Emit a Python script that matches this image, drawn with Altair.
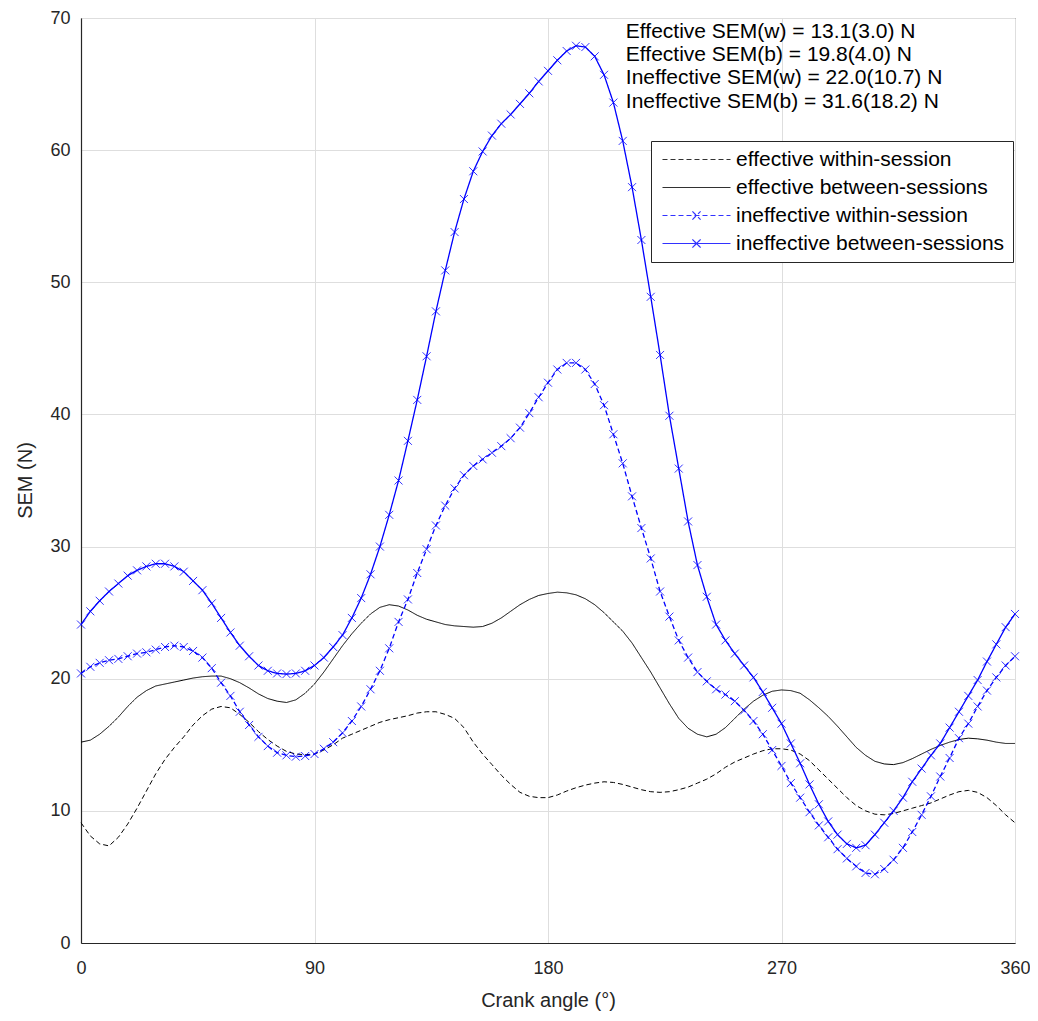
import altair as alt
import pandas as pd

# ---------------- data ----------------
angles = [round(3.6 * i, 1) for i in range(101)]

series_names = [
    "effective within-session",
    "effective between-sessions",
    "ineffective within-session",
    "ineffective between-sessions",
]

eff_within = [9.1, 8.1, 7.5, 7.35, 8.0, 9.0, 10.2, 11.5, 12.8, 13.9,
              14.8, 15.6, 16.5, 17.2, 17.7, 17.9, 17.8, 17.3, 16.7, 16.0,
              15.4, 14.9, 14.5, 14.3, 14.25, 14.3, 14.6, 15.0, 15.5, 15.8,
              16.1, 16.4, 16.7, 16.9, 17.05, 17.2, 17.4, 17.5, 17.5, 17.3,
              17.0, 16.3, 15.2, 14.3, 13.5, 12.7, 12.0, 11.4, 11.1, 11.0,
              11.0, 11.2, 11.5, 11.75, 11.95, 12.1, 12.2, 12.15, 12.0, 11.8,
              11.6, 11.45, 11.4, 11.45, 11.6, 11.8, 12.1, 12.4, 12.8, 13.3,
              13.7, 14.0, 14.3, 14.55, 14.7, 14.7, 14.6, 14.3, 13.8, 13.1,
              12.4, 11.7, 11.0, 10.4, 10.0, 9.75, 9.7, 9.8, 10.0, 10.2,
              10.4, 10.6, 10.9, 11.2, 11.45, 11.55, 11.4, 11.0, 10.4, 9.7,
              9.1]

eff_between = [15.2, 15.35, 15.8, 16.4, 17.1, 17.9, 18.6, 19.1, 19.45, 19.6,
               19.75, 19.9, 20.05, 20.15, 20.2, 20.2, 20.0, 19.7, 19.3, 18.85,
               18.5, 18.3, 18.2, 18.4, 18.9, 19.6, 20.5, 21.5, 22.5, 23.4,
               24.2, 24.9, 25.4, 25.6, 25.5, 25.2, 24.8, 24.5, 24.3, 24.1,
               24.0, 23.95, 23.9, 23.95, 24.2, 24.6, 25.1, 25.6, 26.0, 26.3,
               26.45, 26.55, 26.5, 26.35, 26.05, 25.6, 25.0, 24.3, 23.6, 22.7,
               21.6, 20.5, 19.3, 18.1, 17.0, 16.25, 15.8, 15.6, 15.8, 16.3,
               17.0, 17.7, 18.3, 18.75, 19.05, 19.15, 19.1, 18.9, 18.4, 17.8,
               17.15, 16.4, 15.6, 14.8, 14.2, 13.75, 13.55, 13.5, 13.65, 13.95,
               14.3, 14.65, 14.95, 15.2, 15.4, 15.5, 15.45, 15.35, 15.2, 15.1,
               15.1]

ineff_within = [20.4, 20.9, 21.2, 21.4, 21.5, 21.7, 21.9, 22.0, 22.2, 22.4,
                22.5, 22.4, 22.1, 21.6, 20.8, 19.7, 18.7, 17.5, 16.5, 15.6,
                14.9, 14.4, 14.2, 14.1, 14.15, 14.3, 14.7, 15.2, 15.9, 16.8,
                17.9, 19.2, 20.6, 22.3, 24.3, 26.0, 28.0, 29.8, 31.6, 33.1,
                34.4, 35.4, 36.1, 36.6, 37.1, 37.6, 38.2, 39.0, 40.1, 41.3,
                42.4, 43.4, 43.9, 43.9, 43.4, 42.3, 40.7, 38.5, 36.3, 33.8,
                31.4, 29.1, 26.6, 24.7, 22.9, 21.6, 20.5, 19.8, 19.2, 18.8,
                18.3, 17.6, 16.8, 15.8, 14.6, 13.4, 12.1, 11.0, 9.9, 8.9,
                8.0, 7.1, 6.4, 5.8, 5.3, 5.2, 5.6, 6.3, 7.2, 8.4,
                9.7, 11.1, 12.6, 14.0, 15.5, 16.6, 17.9, 19.1, 20.1, 21.0,
                21.7]

ineff_between = [24.1, 25.1, 25.9, 26.6, 27.2, 27.8, 28.2, 28.5, 28.7, 28.7,
                 28.5, 28.1, 27.4, 26.7, 25.7, 24.6, 23.5, 22.5, 21.7, 21.0,
                 20.6, 20.4, 20.35, 20.4, 20.6, 21.0, 21.6, 22.4, 23.3, 24.6,
                 26.1, 27.9, 30.0, 32.4, 35.0, 38.0, 41.1, 44.4, 47.8, 50.9,
                 53.8, 56.3, 58.4, 59.9, 61.1, 62.0, 62.7, 63.5, 64.3, 65.2,
                 66.0, 66.8, 67.5, 67.9, 67.8, 67.1, 65.7, 63.6, 60.7, 57.2,
                 53.2, 48.9, 44.5, 39.9, 35.9, 31.9, 28.6, 26.2, 24.1, 22.9,
                 21.9, 21.0, 20.1, 19.0, 17.8, 16.6, 15.1, 13.6, 12.0, 10.5,
                 9.2, 8.2, 7.5, 7.2, 7.4, 8.2, 9.1, 10.0, 11.0, 12.2,
                 13.2, 14.2, 15.1, 16.3, 17.5, 18.7, 19.9, 21.3, 22.6, 23.9,
                 24.9]

annotation_lines = [
    "Effective SEM(w) = 13.1(3.0) N",
    "Effective SEM(b) = 19.8(4.0) N",
    "Ineffective SEM(w) = 22.0(10.7) N",
    "Ineffective SEM(b) = 31.6(18.2) N",
]

x_ticks = [0, 90, 180, 270, 360]
y_ticks = [0, 10, 20, 30, 40, 50, 60, 70]

# ---------------- tables ----------------
rows = []
for name, vals in zip(series_names, [eff_within, eff_between, ineff_within, ineff_between]):
    assert len(vals) == len(angles), name
    for a, v in zip(angles, vals):
        rows.append({"angle": a, "sem": v, "series": name})
df = pd.DataFrame(rows)

ann_df = pd.DataFrame({
    "t": annotation_lines,
    "x": [210.0] * len(annotation_lines),
    "y": [68.95 - 1.76 * i for i in range(len(annotation_lines))],
})

# ---------------- styles ----------------
colors = ["#000000", "#000000", "#0000ff", "#0000ff"]
dashes = [[5, 3], [1, 0], [5, 3], [1, 0]]
LINE = "M-5,0H5"
LINE_X = "M-5,0H5M-0.6,-0.6L0.6,0.6M-0.6,0.6L0.6,-0.6"
X_MARK = "M-1,-1L1,1M-1,1L1,-1"

FONT = "Liberation Sans"

legend = alt.Legend(
    title=None, orient="none", legendX=570, legendY=123,
    strokeColor="#262626", fillColor="white", padding=8,
    labelFont=FONT, labelFontSize=21, labelColor="#000000", labelLimit=0,
    symbolSize=185, symbolStrokeWidth=1.2, symbolOffset=27, labelOffset=29,
    rowPadding=6,
)

color_scale = alt.Scale(domain=series_names, range=colors)
dash_scale = alt.Scale(domain=series_names, range=dashes)
shape_scale = alt.Scale(domain=series_names, range=[LINE, LINE, LINE_X, LINE_X])

x_enc = alt.X(
    "angle:Q",
    scale=alt.Scale(domain=[0, 360], nice=False),
    axis=alt.Axis(values=x_ticks, title="Crank angle (°)", labelPadding=16,
                  labelFlush=False, titleBaseline="middle", titleY=57),
)
y_enc = alt.Y(
    "sem:Q",
    scale=alt.Scale(domain=[0, 70], nice=False),
    axis=alt.Axis(values=y_ticks, title="SEM (N)", labelPadding=11,
                  labelFlush=False, titleBaseline="middle", titleX=-56, titleY=462),
)

color_enc = alt.Color("series:N", scale=color_scale, legend=legend)
dash_enc = alt.StrokeDash("series:N", scale=dash_scale, legend=legend)

base = alt.Chart(df)

black_lines = base.transform_filter(
    alt.FieldOneOfPredicate(field="series", oneOf=series_names[:2])
).mark_line(strokeWidth=1.0).encode(
    x=x_enc, y=y_enc, color=color_enc, strokeDash=dash_enc, detail="series:N"
)

blue_lines = base.transform_filter(
    alt.FieldOneOfPredicate(field="series", oneOf=series_names[2:])
).mark_line(strokeWidth=1.3).encode(
    x=x_enc, y=y_enc, color=color_enc, strokeDash=dash_enc, detail="series:N"
)

markers = base.transform_filter(
    alt.FieldOneOfPredicate(field="series", oneOf=series_names[2:])
).mark_point(shape=X_MARK, size=64, filled=False, strokeWidth=1.0, opacity=0.8).encode(
    x=x_enc, y=y_enc, color=color_enc
)

legend_helper = base.transform_filter("false").mark_point(filled=False).encode(
    x=x_enc, y=y_enc, color=color_enc,
    shape=alt.Shape("series:N", scale=shape_scale, legend=legend),
)

annotation = alt.Chart(ann_df).mark_text(
    align="left", baseline="middle", fontSize=21, font=FONT, color="#000000"
).encode(x=alt.X("x:Q"), y=alt.Y("y:Q"), text="t:N")

chart = alt.layer(black_lines, blue_lines, markers, legend_helper, annotation).properties(
    width=934, height=925,
    autosize=alt.AutoSizeParams(type="none"),
    padding={"left": 73, "top": 10, "right": 15, "bottom": 70},
).configure_view(
    stroke="#262626", strokeWidth=1
).configure_axis(
    grid=True, gridColor="#dedede", gridWidth=1,
    domainColor="#262626", domainWidth=1.2,
    ticks=False,
    labelFont=FONT, labelFontSize=18, labelColor="#262626",
    titleFont=FONT, titleFontSize=20, titleColor="#262626", titleFontWeight="normal",
)

chart.save("out.html", embed_options={"renderer": "svg", "actions": False})
